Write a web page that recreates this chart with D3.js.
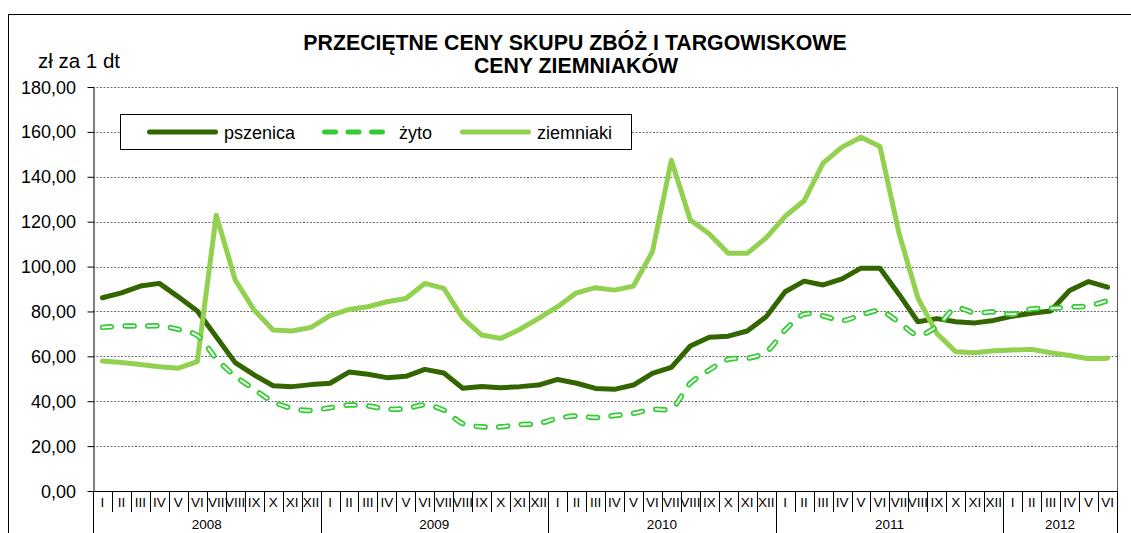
<!DOCTYPE html>
<html><head><meta charset="utf-8">
<script src="https://cdn.jsdelivr.net/npm/d3@7/dist/d3.min.js"></script>
<style>
body{margin:0;background:#fff;}
text{font-family:"Liberation Sans",Arial,sans-serif;fill:#000;}
</style>
</head><body>
<svg id="c" width="1131" height="533"></svg>
<script>
// ---- data ----
const months = ["I","II","III","IV","V","VI","VII","VIII","IX","X","XI","XII"];
const years = ["2008","2009","2010","2011","2012"];
const monthsPerYear = [12,12,12,12,6];
const seriesNames = ["pszenica","żyto","ziemniaki"];
const yTicks = [0,20,40,60,80,100,120,140,160,180];
const yTickLabels = ["0,00","20,00","40,00","60,00","80,00","100,00","120,00","140,00","160,00","180,00"];
const titleLines = ["PRZECIĘTNE CENY SKUPU ZBÓŻ I TARGOWISKOWE","CENY ZIEMNIAKÓW"];
const yAxisTitle = "zł za 1 dt";

const pszenica = [
  86.1, 88.3, 91.3, 92.5, 86.5, 80.2, 68.7, 57.2, 51.7, 46.9, 46.5, 47.4,
  48.0, 53.0, 52.0, 50.5, 51.1, 54.2, 52.6, 45.8, 46.6, 46.0, 46.5, 47.2,
  49.7, 48.0, 45.7, 45.3, 47.2, 52.4, 55.1, 64.6, 68.5, 69.0, 71.3, 77.6,
  88.8, 93.5, 91.8, 94.5, 99.3, 99.2, 87.7, 75.4, 76.8, 75.4, 74.9, 76.0,
  77.9, 79.2, 80.2, 89.3, 93.3, 90.8
];
const zyto = [
  72.9, 73.5, 73.5, 73.5, 72.0, 69.3, 59.0, 51.2, 45.3, 39.8, 36.8, 35.9,
  37.1, 38.3, 37.9, 36.5, 36.7, 38.3, 36.0, 30.0, 28.6, 28.6, 29.6, 30.1,
  32.4, 33.4, 32.7, 33.6, 34.6, 36.4, 36.8, 48.0, 53.9, 58.7, 59.1, 62.0,
  71.7, 78.8, 78.0, 75.9, 78.4, 80.2, 75.2, 69.5, 73.3, 81.4, 79.4, 79.8,
  78.8, 81.1, 81.4, 82.0, 82.5, 84.8
];
const ziemniaki = [
  57.9, 57.3, 56.4, 55.4, 54.7, 57.6, 122.9, 94.0, 80.6, 71.7, 71.3, 72.9,
  78.1, 80.9, 82.1, 84.3, 85.8, 92.5, 90.3, 77.0, 69.5, 68.0, 72.0, 76.9,
  82.1, 88.3, 90.6, 89.5, 91.3, 106.6, 147.4, 120.7, 114.5, 105.9, 105.9, 112.8,
  122.4, 129.3, 146.1, 153.2, 157.6, 153.5, 115.0, 86.0, 70.2, 62.0, 61.6, 62.5,
  62.8, 63.1, 61.6, 60.4, 58.9, 59.2
];

// ---- build categories ----
const cats = [];
years.forEach((y, yi) => { for (let m = 0; m < monthsPerYear[yi]; m++) cats.push({key: y + "-" + months[m], year: y, month: months[m]}); });

const L = 93, R = 1117, T = 87, B = 491;
const svg = d3.select("#c");
const x = d3.scaleBand().domain(cats.map(d => d.key)).range([L, R]).padding(0);
const y = d3.scaleLinear().domain([0, 180]).range([B, T]);
const cx = k => x(k) + x.bandwidth() / 2;

const C_PSZ = "#336600", C_ZYTO = "#33cc33", C_ZIEM = "#92d050";

function stext(g, str, px, py, size, anchor, weight, sy) {
  return g.append("text").attr("transform", `translate(${px},${py}) scale(1,${sy || 1})`)
    .attr("text-anchor", anchor || "start").attr("font-size", size)
    .attr("font-weight", weight || "normal").text(str);
}

// outer chart border
svg.append("rect").attr("x", 8.5).attr("y", 14.5).attr("width", 1200).attr("height", 600)
  .attr("fill", "none").attr("stroke", "#000").attr("stroke-width", 1);

// title (one text element, two lines)
const tt = svg.append("text").attr("transform", "translate(575,50) scale(1,1.06)")
  .attr("text-anchor", "middle").attr("font-size", 21.3).attr("font-weight", "bold");
tt.append("tspan").attr("x", 0).attr("dy", 0).text(titleLines[0]);
tt.append("tspan").attr("x", 1).attr("dy", 21.7).text(titleLines[1]);

stext(svg, yAxisTitle, 38, 68, 20.5, "start");

// gridlines
svg.append("g").selectAll("line").data(yTicks.filter(v => v > 0)).join("line")
  .attr("x1", L).attr("x2", R).attr("y1", d => Math.round(y(d)) + 0.5).attr("y2", d => Math.round(y(d)) + 0.5)
  .attr("stroke", "#6e6e6e").attr("stroke-width", 1).attr("stroke-dasharray", "2,1.5");

// right border of plot
svg.append("line").attr("x1", R + 0.5).attr("x2", R + 0.5).attr("y1", T).attr("y2", B)
  .attr("stroke", "#555").attr("stroke-width", 1);

// y axis
const ya = d3.axisLeft(y).tickValues(yTicks).tickSize(6).tickSizeOuter(0).tickFormat("");
const yg = svg.append("g").attr("transform", `translate(${L + 0.5},0)`).call(ya);
yg.select(".domain").attr("stroke", "#000");
yg.selectAll(".tick line").attr("stroke", "#000");
yTicks.forEach((v, i) => stext(svg, yTickLabels[i], 76, y(v) + 6.5, 18, "end"));

// x axis line
svg.append("line").attr("x1", L).attr("x2", R + 1).attr("y1", B + 0.5).attr("y2", B + 0.5).attr("stroke", "#000");
// month separators and labels
const gx = svg.append("g");
cats.forEach((c, i) => {
  const xl = Math.round(x(c.key)) + 0.5;
  const isYear = c.month === "I";
  gx.append("line").attr("x1", xl).attr("x2", xl).attr("y1", B).attr("y2", isYear ? 533 : 512)
    .attr("stroke", "#000").attr("stroke-width", 1);
  stext(gx, c.month, cx(c.key), 507, 13.5, "middle");
});
gx.append("line").attr("x1", R + 0.5).attr("x2", R + 0.5).attr("y1", B).attr("y2", 533).attr("stroke", "#000");
// year labels
years.forEach((yr, yi) => {
  const ks = cats.filter(c => c.year === yr);
  const a = x(ks[0].key), b = x(ks[ks.length - 1].key) + x.bandwidth();
  stext(gx, yr, (a + b) / 2, 529, 13.5, "middle");
});

// series
const line = d3.line().x((d, i) => cx(cats[i].key)).y(d => y(d));
const smooth = d3.line().x((d, i) => cx(cats[i].key)).y(d => y(d)).curve(d3.curveCatmullRom.alpha(0.5));

svg.append("path").datum(pszenica).attr("d", line).attr("fill", "none")
  .attr("stroke", C_PSZ).attr("stroke-width", 5).attr("stroke-linejoin", "round").attr("stroke-linecap", "round");
svg.append("path").datum(ziemniaki).attr("d", line).attr("fill", "none")
  .attr("stroke", C_ZIEM).attr("stroke-width", 5).attr("stroke-linejoin", "round").attr("stroke-linecap", "round");
svg.append("path").datum(zyto).attr("d", smooth).attr("fill", "none")
  .attr("stroke", C_ZYTO).attr("stroke-width", 5.5).attr("stroke-dasharray", "9,13.7").attr("stroke-linecap", "round");
svg.append("path").datum(zyto).attr("d", smooth).attr("fill", "none")
  .attr("stroke", "#fff").attr("stroke-width", 2).attr("stroke-dasharray", "9,13.7").attr("stroke-linecap", "round");

// legend
const lg = svg.append("g");
lg.append("rect").attr("x", 120.5).attr("y", 114.5).attr("width", 511).attr("height", 35)
  .attr("fill", "#fff").attr("stroke", "#000").attr("stroke-width", 1);
const ly = 132;
lg.append("line").attr("x1", 149.5).attr("x2", 215.5).attr("y1", ly).attr("y2", ly)
  .attr("stroke", C_PSZ).attr("stroke-width", 5).attr("stroke-linecap", "round");
stext(lg, seriesNames[0], 224, 138.5, 18, "start");
lg.append("line").attr("x1", 324.5).attr("x2", 382.5).attr("y1", ly).attr("y2", ly)
  .attr("stroke", C_ZYTO).attr("stroke-width", 5).attr("stroke-dasharray", "11,12.5").attr("stroke-linecap", "round");
stext(lg, seriesNames[1], 399, 138.5, 18, "start");
lg.append("line").attr("x1", 462.5).attr("x2", 528.5).attr("y1", ly).attr("y2", ly)
  .attr("stroke", C_ZIEM).attr("stroke-width", 5).attr("stroke-linecap", "round");
stext(lg, seriesNames[2], 537, 138.5, 18, "start");
</script>
</body></html>
